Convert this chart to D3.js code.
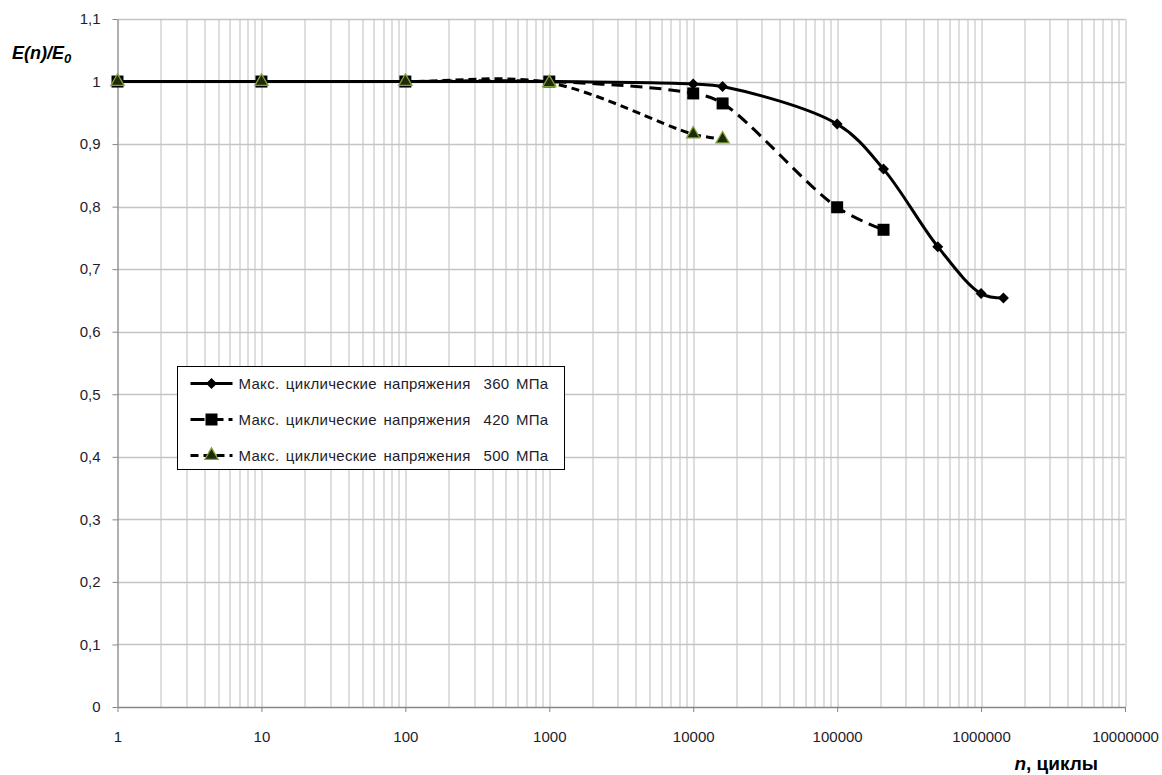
<!DOCTYPE html>
<html>
<head>
<meta charset="utf-8">
<script src="https://cdn.jsdelivr.net/npm/d3@7"></script>
<style>
  body { margin: 0; background: #fff; }
  svg { font-family: 'Liberation Sans', Arial, sans-serif; }
  .axis path, .axis line { stroke: #868686; }
  .axis text { font-size: 15px; fill: #1d1d2b; }
</style>
</head>
<body>
<div id="chart"></div>
<script>
// data
var cycles360 = [1, 10, 100, 1000, 10000, 16000, 100000, 210000, 500000, 1000000, 1430000];
var ratio360  = [1, 1, 1, 1, 0.996, 0.992, 0.932, 0.860, 0.736, 0.661, 0.654];
var cycles420 = [1, 10, 100, 1000, 10000, 16000, 100000, 210000];
var ratio420  = [1, 1, 1, 1, 0.981, 0.965, 0.799, 0.763];
var cycles500 = [1, 10, 100, 1000, 10000, 16000];
var ratio500  = [1, 1, 1, 0.998, 0.916, 0.908];
var seriesNames = ['Макс. циклические напряжения  360 МПа',
                   'Макс. циклические напряжения  420 МПа',
                   'Макс. циклические напряжения  500 МПа'];
var xTicks = [1, 10, 100, 1000, 10000, 100000, 1000000, 10000000];
var yTicks = [0, 0.1, 0.2, 0.3, 0.4, 0.5, 0.6, 0.7, 0.8, 0.9, 1, 1.1];

var W = 1162, H = 775;
var margin = {top: 19, right: 37, bottom: 68, left: 117.5},
    width = W - margin.left - margin.right,
    height = H - margin.top - margin.bottom;

var svg = d3.select('#chart').append('svg')
    .attr('width', W)
    .attr('height', H);

var g = svg.append('g')
    .attr('transform', 'translate(' + margin.left + ',' + margin.top + ')');

var x = d3.scaleLog().domain([1, 1e7]).range([0, width]);
var y = d3.scaleLinear().domain([0, 1.1]).range([height, 0]);

// vertical grid, minor + major
var minor = [];
for (var d = 0; d < 7; d++) {
  for (var k = 2; k <= 9; k++) minor.push(k * Math.pow(10, d));
}
g.append('g').selectAll('line')
    .data(minor.concat(xTicks.slice(1)))
  .enter().append('line')
    .attr('x1', function(v) { return Math.round(x(v)) + 0.5; })
    .attr('x2', function(v) { return Math.round(x(v)) + 0.5; })
    .attr('y1', 0).attr('y2', height)
    .attr('stroke', '#cdcdcd').attr('stroke-width', 1.3);

// horizontal grid
g.append('g').selectAll('line')
    .data(yTicks.slice(1))
  .enter().append('line')
    .attr('x1', 0).attr('x2', width)
    .attr('y1', function(v) { return Math.round(y(v)) + 0.5; })
    .attr('y2', function(v) { return Math.round(y(v)) + 0.5; })
    .attr('stroke', '#c4c4c4').attr('stroke-width', 1.3);

var xAxis = d3.axisBottom(x)
    .tickValues(xTicks)
    .tickFormat(d3.format('d'))
    .tickSize(5)
    .tickSizeOuter(0)
    .tickPadding(19);

var yAxis = d3.axisLeft(y)
    .tickValues(yTicks)
    .tickFormat(function(v) { return d3.format('.1~f')(v).replace('.', ','); })
    .tickSize(5)
    .tickSizeOuter(0)
    .tickPadding(12);

g.append('g')
    .attr('class', 'axis')
    .attr('transform', 'translate(0,' + height + ')')
    .call(xAxis);

g.append('g')
    .attr('class', 'axis')
    .call(yAxis);

g.selectAll('.axis path').attr('stroke-width', 1.3);

// series
var series = [
  {xs: cycles360, ys: ratio360, dash: null, marker: 'diamond'},
  {xs: cycles420, ys: ratio420, dash: '12,7', marker: 'square'},
  {xs: cycles500, ys: ratio500, dash: '8,5', marker: 'triangle'}
];

var line = d3.line()
    .x(function(p) { return x(p[0]); })
    .y(function(p) { return y(p[1]); })
    .curve(d3.curveCatmullRom.alpha(0.5));

function drawMarker(sel, type) {
  if (type === 'diamond') {
    sel.append('path')
        .attr('d', 'M0,-5.5L5.5,0L0,5.5L-5.5,0Z')
        .attr('fill', '#000');
  } else if (type === 'square') {
    sel.append('path')
        .attr('d', d3.symbol(d3.symbolSquare, 144)())
        .attr('fill', '#000');
  } else {
    sel.append('path')
        .attr('d', d3.symbol(d3.symbolTriangle, 75)())
        .attr('fill', '#1e2a0a')
        .attr('stroke', '#7fa33a')
        .attr('stroke-width', 1.3);
  }
}

series.forEach(function(s) {
  var pts = d3.zip(s.xs, s.ys);
  g.append('path')
      .datum(pts)
      .attr('d', line)
      .attr('fill', 'none')
      .attr('stroke', '#000')
      .attr('stroke-width', 3)
      .attr('stroke-dasharray', s.dash);
  g.selectAll(null)
      .data(pts)
    .enter().append('g')
      .attr('transform', function(p) { return 'translate(' + x(p[0]) + ',' + y(p[1]) + ')'; })
      .each(function() { drawMarker(d3.select(this), s.marker); });
});

// legend
var legend = svg.append('g').attr('transform', 'translate(177.5,366.5)');
legend.append('rect')
    .attr('width', 387).attr('height', 103)
    .attr('fill', '#fff').attr('stroke', '#000').attr('stroke-width', 1);

series.forEach(function(s, i) {
  var row = legend.append('g').attr('transform', 'translate(0,' + (17 + i * 36) + ')');
  row.append('line')
      .attr('x1', 13).attr('x2', 55)
      .attr('stroke', '#000').attr('stroke-width', 3)
      .attr('stroke-dasharray', s.dash ? (i === 1 ? '14,5' : '8,5') : null);
  var m = row.append('g').attr('transform', 'translate(34,0)');
  drawMarker(m, s.marker);
  row.append('text')
      .attr('x', 61).attr('dy', '0.35em')
      .attr('font-size', '15px')
      .attr('letter-spacing', '0.3px')
      .attr('word-spacing', '2px')
      .attr('fill', '#1d1d2b')
      .style('white-space', 'pre')
      .text(seriesNames[i]);
});

// axis titles
var yt = svg.append('text')
    .attr('x', 12).attr('y', 59)
    .attr('font-size', '18px').attr('font-weight', 'bold').attr('font-style', 'italic')
    .attr('fill', '#000');
yt.append('tspan').text('E(n)/E');
yt.append('tspan').attr('font-size', '13px').attr('dy', 4).text('0');

var xt = svg.append('text')
    .attr('x', 1098).attr('y', 770)
    .attr('text-anchor', 'end')
    .attr('font-size', '19px').attr('font-weight', 'bold')
    .attr('fill', '#000');
xt.append('tspan').attr('font-style', 'italic').text('n');
xt.append('tspan').text(', циклы');
</script>
</body>
</html>
